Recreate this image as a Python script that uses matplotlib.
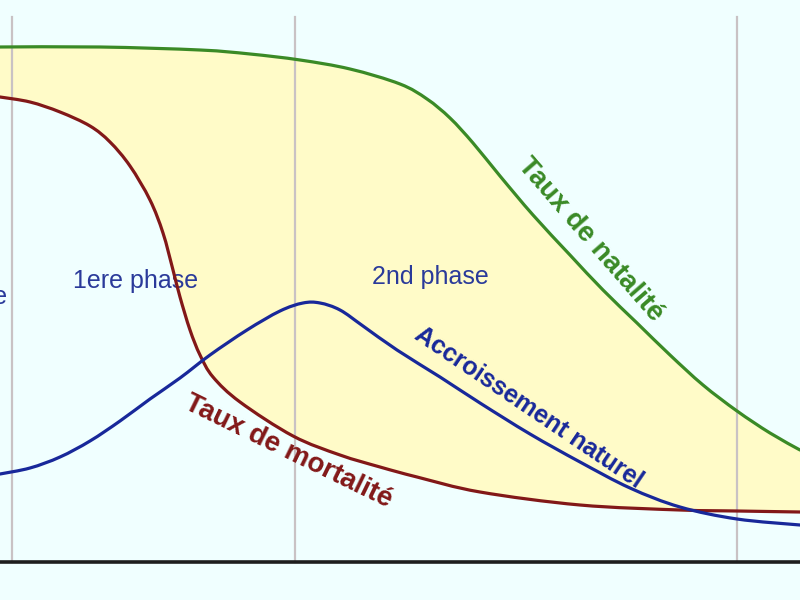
import matplotlib
matplotlib.use("Agg")
import matplotlib.pyplot as plt
from matplotlib.path import Path
from matplotlib.patches import PathPatch
import numpy as np

# Time axis samples (horizontal units) and curve levels (vertical units, measured downward)
natalite_x = [0, 100, 200, 250, 300, 350, 400, 427, 450, 473, 500, 533, 570, 603, 637, 670, 703, 737, 770, 800]
natalite_y = [47, 47, 50, 54, 60, 69, 84, 99, 118, 143, 176, 215, 255, 290, 323, 355, 385, 411, 433, 450]

mortalite_x = [0, 30, 60, 90, 110, 130, 150, 163, 173, 180, 190, 200, 213, 240, 293, 340, 380, 417, 480, 580, 680, 737, 800]
mortalite_y = [97, 102, 112, 126, 142, 166, 200, 233, 270, 297, 330, 355, 377, 402, 436, 455, 467, 477, 492, 505, 510, 511, 512]

accroissement_x = [0, 30, 60, 90, 120, 150, 180, 210, 247, 280, 303, 320, 340, 363, 397, 440, 480, 530, 580, 630, 680, 737, 800]
accroissement_y = [474, 468, 457, 441, 421, 399, 378, 355, 330, 311, 303, 303, 310, 326, 350, 377, 403, 434, 462, 488, 507, 519, 525]

phase_lines_x = [12, 295, 737]
axis_y = 562

labels_phase = ["phase", "1ere phase", "2nd phase"]

BG = "#F0FFFF"
YELLOW = "#FFFBC8"
GREEN = "#3A8A26"
RED = "#821818"
BLUE = "#18289A"
TXT_BLUE = "#2A3A9A"


def smooth(xs, ys):
    pts = np.column_stack([xs, ys]).astype(float)
    verts = [pts[0]]
    codes = [Path.MOVETO]
    n = len(pts)
    for i in range(n - 1):
        p0 = pts[i - 1] if i > 0 else pts[i]
        p1 = pts[i]
        p2 = pts[i + 1]
        p3 = pts[i + 2] if i + 2 < n else pts[i + 1]
        verts += [p1 + (p2 - p0) / 6.0, p2 - (p3 - p1) / 6.0, p2]
        codes += [Path.CURVE4] * 3
    return verts, codes


fig = plt.figure(figsize=(8, 6), dpi=100, facecolor=BG)
ax = fig.add_axes([0, 0, 1, 1], facecolor=BG)
ax.set_xlim(0, 800)
ax.set_ylim(600, 0)
ax.axis("off")

# Yellow area between natality and mortality
vn, cn = smooth(natalite_x, natalite_y)
vm, cm = smooth(mortalite_x[::-1], mortalite_y[::-1])
cm = [Path.LINETO] + cm[1:]
fill_path = Path(vn + vm + [vn[0]], cn + cm + [Path.CLOSEPOLY])
ax.add_patch(PathPatch(fill_path, facecolor=YELLOW, edgecolor="none", zorder=1))

# Phase separators
for px in phase_lines_x:
    ax.plot([px, px], [17, axis_y], color="#C9C2C4", lw=1.6, zorder=2)

# Baseline
ax.plot([0, 800], [axis_y, axis_y], color="#1E1E1E", lw=2.6, zorder=3)

for xs, ys, col, z in [(natalite_x, natalite_y, GREEN, 4),
                       (mortalite_x, mortalite_y, RED, 4),
                       (accroissement_x, accroissement_y, BLUE, 5)]:
    v, c = smooth(xs, ys)
    ax.add_patch(PathPatch(Path(v, c), facecolor="none", edgecolor=col, lw=2.3, zorder=z,
                           capstyle="round", joinstyle="round"))

font = ["Liberation Sans", "DejaVu Sans"]
ax.text(8, 297, labels_phase[0], ha="right", va="center", fontsize=18, color=TXT_BLUE, family=font)
ax.text(136, 281, labels_phase[1], ha="center", va="center", fontsize=18, color=TXT_BLUE, family=font)
ax.text(430, 277, labels_phase[2], ha="center", va="center", fontsize=18, color=TXT_BLUE, family=font)

ax.text(288, 452, "Taux de mortalité", rotation=-26, rotation_mode="anchor", ha="center", va="center",
        fontsize=20, fontweight="bold", color=RED, family=font, zorder=6)
ax.text(590, 240, "Taux de natalité", rotation=-49, rotation_mode="anchor", ha="center", va="center",
        fontsize=20, fontweight="bold", color=GREEN, family=font, zorder=6)
ax.text(529, 408, "Accroissement naturel", rotation=-34, rotation_mode="anchor", ha="center", va="center",
        fontsize=18, fontweight="bold", color=BLUE, family=font, zorder=6)

fig.savefig("out.png", dpi=100, facecolor=BG)
